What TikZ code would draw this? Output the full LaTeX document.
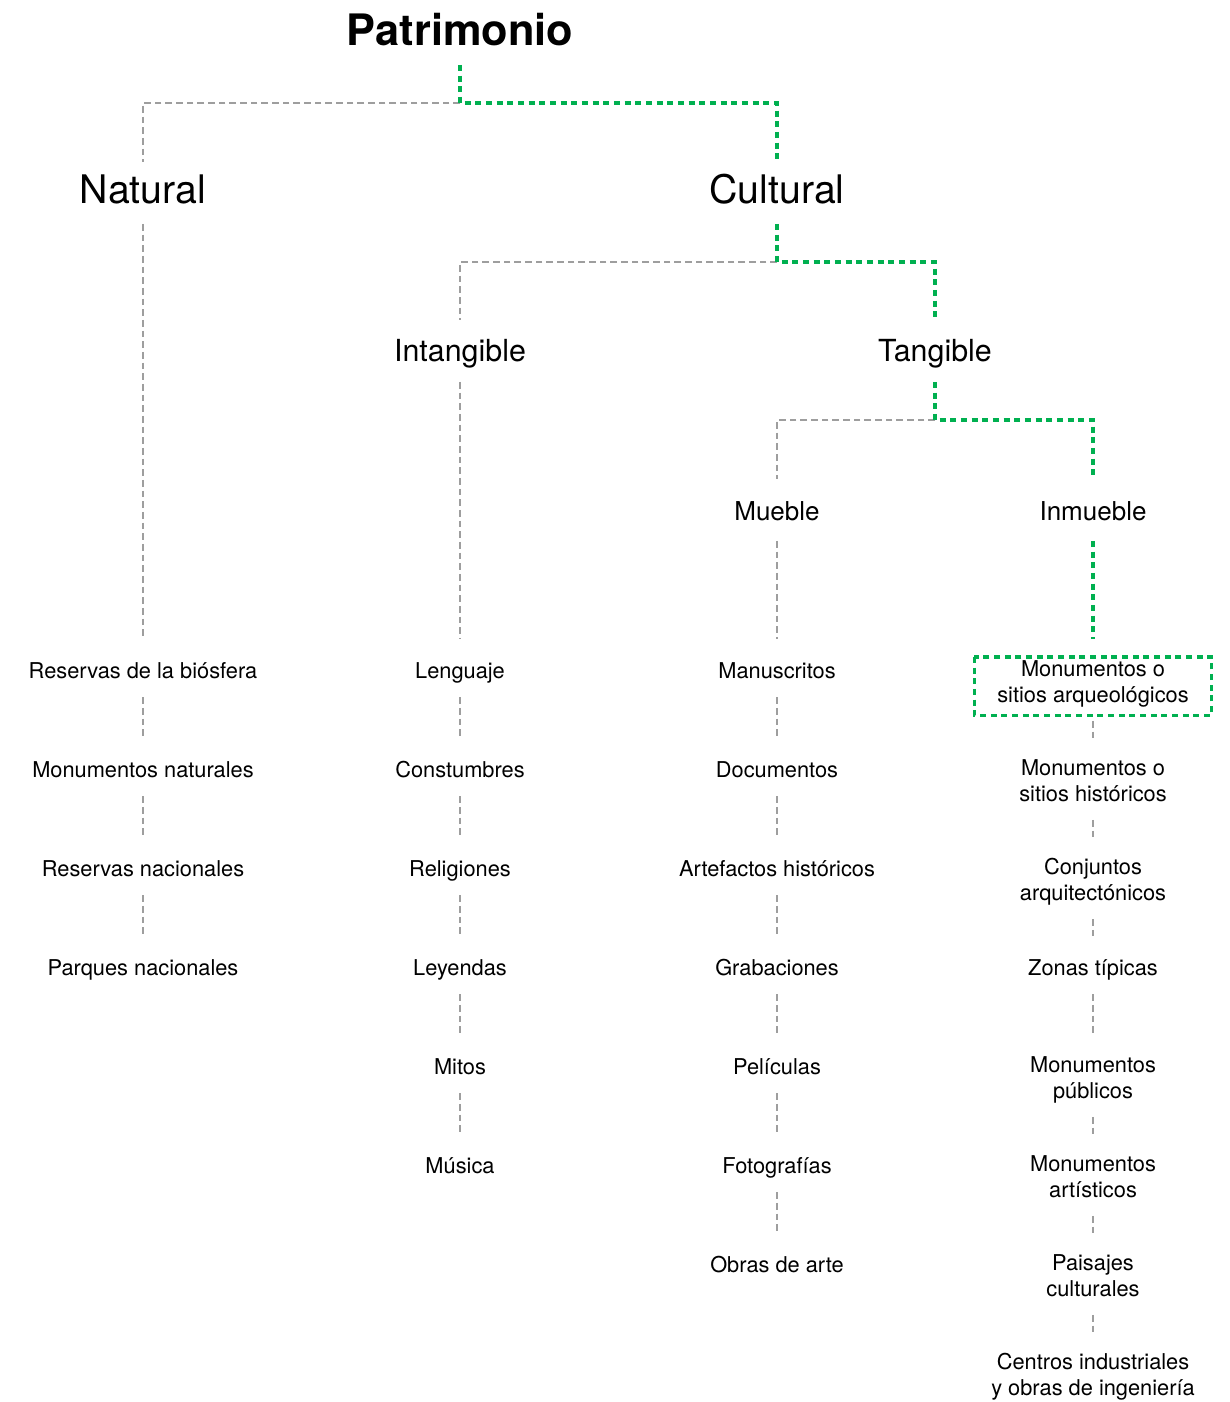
\documentclass[tikz,border=0pt]{standalone}
\usepackage{fontspec}
\setmainfont{TeX Gyre Heros}
\definecolor{stemgray}{RGB}{158,158,158}
\definecolor{pathgreen}{RGB}{0,176,80}
\newcommand\leaffont{\fontsize{16.35}{19.5}\selectfont}
\tikzset{
  stem/.style={draw=stemgray, line width=1pt, dash pattern=on 5pt off 3pt},
  route/.style={draw=pathgreen, line width=2.4pt, dash pattern=on 4.5pt off 3.5pt},
  branch/.style={anchor=base, inner sep=0pt, text height=30.5pt, text depth=15.5pt},
  leaf/.style={anchor=north, inner sep=0pt, align=center, font=\leaffont,
    execute at begin node=\strut, execute at end node=\strut},
}
\begin{document}
\begin{tikzpicture}[x=0.75pt, y=-0.75pt]
\useasboundingbox (0,0) rectangle (1230,1402);

% heads
\node[anchor=base, inner sep=0pt, text depth=14pt, font=\fontsize{32.5}{39}\selectfont\bfseries] (pat) at (460,46) {Patrimonio};
\node[branch, font=\fontsize{29.5}{35}\selectfont] (nat) at (143,203) {Natural};
\node[branch, font=\fontsize{29.5}{35}\selectfont] (cul) at (777,203) {Cultural};
\node[branch, font=\fontsize{22.8}{27}\selectfont] (intang) at (460,361) {Intangible};
\node[branch, font=\fontsize{22.8}{27}\selectfont] (tang) at (935,361) {Tangible};
\node[branch, font=\fontsize{19.5}{23}\selectfont] (mueb) at (777,520) {Mueble};
\node[branch, font=\fontsize{19.5}{23}\selectfont] (inmu) at (1093,520) {Inmueble};

\coordinate (j1) at (460,103);
\coordinate (j2) at (777,262);
\coordinate (j3) at (935,420);

% leaves
\foreach \t [count=\i] in {Reservas de la biósfera, Monumentos naturales, Reservas nacionales, Parques nacionales}
  \node[leaf] (nat\i) at (143,561+99*\i) {\t};
\foreach \t [count=\i] in {Lenguaje, Constumbres, Religiones, Leyendas, Mitos, Música}
  \node[leaf] (int\i) at (460,561+99*\i) {\t};
\foreach \t [count=\i] in {Manuscritos, Documentos, Artefactos históricos, Grabaciones, Películas, Fotografías, Obras de arte}
  \node[leaf] (mue\i) at (777,561+99*\i) {\t};
\foreach \t [count=\i] in {{Monumentos o\\sitios arqueológicos}, {Monumentos o\\sitios históricos}, {Conjuntos\\arquitectónicos}, Zonas típicas, {Monumentos\\públicos}, {Monumentos\\artísticos}, {Paisajes\\culturales}, {Centros industriales\\y obras de ingeniería}}
  \node[leaf] (inm\i) at (1093,561+99*\i) {\t};

% grey stems
\draw[stem] (j1) -| (nat.north);
\draw[stem] (j2) -| (intang.north);
\draw[stem] (j3) -| (mueb.north);
\draw[stem, shorten >=16pt] (nat.south) -- (nat1.north);
\draw[stem, shorten >=16pt] (intang.south) -- (int1.north);
\draw[stem, shorten >=16pt] (mueb.south) -- (mue1.north);
\foreach \c/\n in {nat/4, int/6, mue/7, inm/8}
  \foreach \k [remember=\k as \p (initially 1)] in {2,...,\n}
    \draw[stem, shorten <=8pt, shorten >=16pt] (\c\p.south) -- (\c\k.north);

% green route
\draw[route] (pat.south) -- (j1) -| (cul.north);
\draw[route] (cul.south) -- (j2) -| (tang.north);
\draw[route] (tang.south) -- (j3) -| (inmu.north);
\draw[route, shorten >=16pt] (inmu.south) -- (inm1.north);
\draw[route] ([shift={(-17pt,2.3pt)}]inm1.north west) rectangle ([shift={(17pt,-3.7pt)}]inm1.south east);
\end{tikzpicture}
\end{document}
